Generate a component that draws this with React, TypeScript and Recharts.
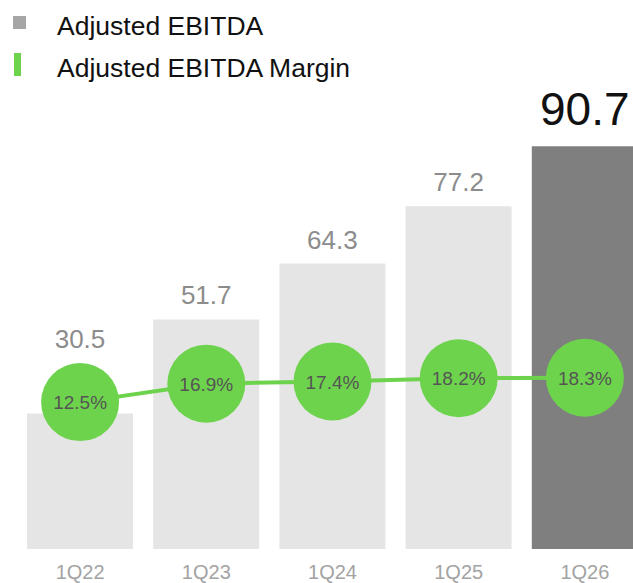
import { ComposedChart, Bar, Line, XAxis, YAxis, Cell, LabelList } from 'recharts'

const quarters = ['1Q22', '1Q23', '1Q24', '1Q25', '1Q26']
const ebitda = [30.5, 51.7, 64.3, 77.2, 90.7]
const margin = [12.5, 16.9, 17.4, 18.2, 18.3]

const data = quarters.map((q, i) => ({ q, ebitda: ebitda[i], margin: margin[i] }))

const FONT = '"Liberation Sans", Arial, sans-serif'
const GREEN = '#6dd34c'
const LIGHT = '#e5e5e5'
const DARK = '#7f7f7f'

function BarValue(props: any) {
  const { x, y, width, value, index } = props
  const last = index === quarters.length - 1
  // first bar sits under its margin bubble, so its value goes above the bubble
  const lift = index === 0 ? 66 : last ? 21 : 15
  return (
    <text
      x={x + width / 2}
      y={y - lift}
      textAnchor="middle"
      fontFamily={FONT}
      fontSize={last ? 46 : 26}
      fill={last ? '#111' : '#8c8c8c'}
    >
      {value}
    </text>
  )
}

function MarginDot(props: any) {
  const { cx, cy, value, index } = props
  return (
    <g key={`dot-${index}`}>
      <circle cx={cx} cy={cy} r={39} fill={GREEN} />
      <text x={cx} y={cy + 7} textAnchor="middle" fontFamily={FONT} fontSize={19} fill="#555">
        {value.toFixed(1)}%
      </text>
    </g>
  )
}

function QuarterTick(props: any) {
  const { x, y, payload } = props
  return (
    <text x={x} y={y + 22} textAnchor="middle" fontFamily={FONT} fontSize={20} fill="#a3a3a3">
      {payload.value}
    </text>
  )
}

function Legend() {
  return (
    <div style={{ position: 'absolute', left: 0, top: 0, fontFamily: FONT, fontSize: 26.5, color: '#111' }}>
      <div style={{ position: 'absolute', left: 13, top: 16, width: 13, height: 13, background: '#a6a6a6' }} />
      <div style={{ position: 'absolute', left: 57, top: 11, whiteSpace: 'nowrap' }}>Adjusted EBITDA</div>
      <div style={{ position: 'absolute', left: 14, top: 53, width: 7, height: 23, background: GREEN }} />
      <div style={{ position: 'absolute', left: 57, top: 53, whiteSpace: 'nowrap' }}>Adjusted EBITDA Margin</div>
    </div>
  )
}

export default function App() {
  return (
    <div style={{ position: 'absolute', left: 0, top: 0, width: 633, height: 583, overflow: 'hidden', background: '#fff' }}>
      <ComposedChart width={660} height={620} data={data} margin={{ top: 105, right: 12, bottom: 31, left: 17 }}>
        <XAxis dataKey="q" axisLine={false} tickLine={false} height={40} tick={<QuarterTick />} interval={0} />
        <YAxis yAxisId="left" domain={[0, 100]} hide />
        <YAxis yAxisId="right" domain={[-22.5, 83.3]} hide />
        <Bar yAxisId="left" dataKey="ebitda" barSize={106} isAnimationActive={false}>
          {data.map((d, i) => (
            <Cell key={d.q} fill={i === data.length - 1 ? DARK : LIGHT} />
          ))}
          <LabelList dataKey="ebitda" content={<BarValue />} />
        </Bar>
        <Line
          yAxisId="right"
          dataKey="margin"
          stroke={GREEN}
          strokeWidth={4}
          dot={<MarginDot />}
          activeDot={false}
          isAnimationActive={false}
        />
      </ComposedChart>
      <Legend />
    </div>
  )
}
